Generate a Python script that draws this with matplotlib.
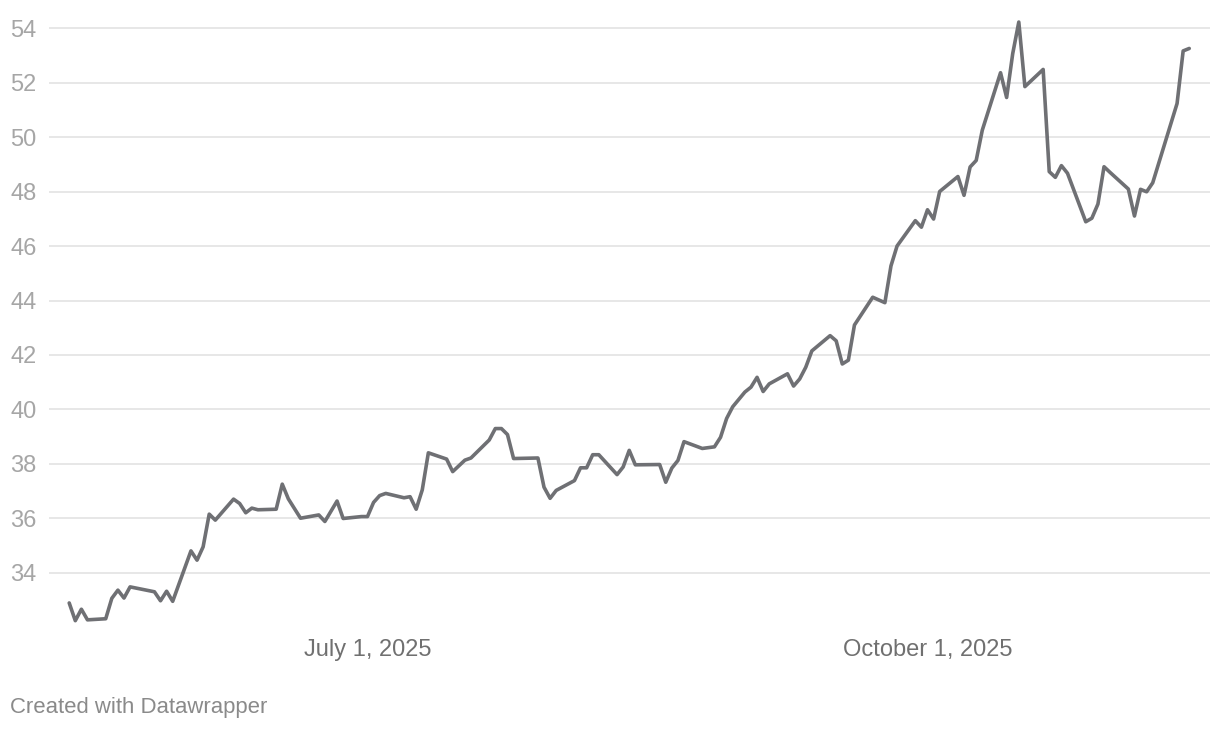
import datetime as dt
import matplotlib
matplotlib.use("Agg")
import matplotlib.pyplot as plt

# values
dates = [
    "2025-05-13", "2025-05-14", "2025-05-15", "2025-05-16", "2025-05-19", "2025-05-20",
    "2025-05-21", "2025-05-22", "2025-05-23", "2025-05-27", "2025-05-28", "2025-05-29",
    "2025-05-30", "2025-06-02", "2025-06-03", "2025-06-04", "2025-06-05", "2025-06-06",
    "2025-06-09", "2025-06-10", "2025-06-11", "2025-06-12", "2025-06-13", "2025-06-16",
    "2025-06-17", "2025-06-18", "2025-06-20", "2025-06-23", "2025-06-24", "2025-06-26",
    "2025-06-27", "2025-06-30", "2025-07-01", "2025-07-02", "2025-07-03", "2025-07-04",
    "2025-07-07", "2025-07-08", "2025-07-09", "2025-07-10", "2025-07-11", "2025-07-14",
    "2025-07-15", "2025-07-17", "2025-07-18", "2025-07-21", "2025-07-22", "2025-07-23",
    "2025-07-24", "2025-07-25", "2025-07-29", "2025-07-30", "2025-07-31", "2025-08-01",
    "2025-08-04", "2025-08-05", "2025-08-06", "2025-08-07", "2025-08-08", "2025-08-11",
    "2025-08-12", "2025-08-13", "2025-08-14", "2025-08-18", "2025-08-19", "2025-08-20",
    "2025-08-21", "2025-08-22", "2025-08-25", "2025-08-27", "2025-08-28", "2025-08-29",
    "2025-08-30", "2025-09-01", "2025-09-02", "2025-09-03", "2025-09-04", "2025-09-05",
    "2025-09-08", "2025-09-09", "2025-09-10", "2025-09-11", "2025-09-12", "2025-09-15",
    "2025-09-16", "2025-09-17", "2025-09-18", "2025-09-19", "2025-09-22", "2025-09-24",
    "2025-09-25", "2025-09-26", "2025-09-29", "2025-09-30", "2025-10-01", "2025-10-02",
    "2025-10-03", "2025-10-06", "2025-10-07", "2025-10-08", "2025-10-09", "2025-10-10",
    "2025-10-13", "2025-10-14", "2025-10-15", "2025-10-16", "2025-10-17", "2025-10-20",
    "2025-10-21", "2025-10-22", "2025-10-23", "2025-10-24", "2025-10-27", "2025-10-28",
    "2025-10-29", "2025-10-30", "2025-10-31", "2025-11-03", "2025-11-04", "2025-11-05",
    "2025-11-06", "2025-11-07", "2025-11-11", "2025-11-12", "2025-11-13",
]
values = [
    32.90, 32.25, 32.67, 32.28, 32.32, 33.07,
    33.37, 33.08, 33.49, 33.31, 32.98, 33.33,
    32.96, 34.81, 34.47, 34.96, 36.16, 35.94,
    36.71, 36.55, 36.21, 36.38, 36.32, 36.34,
    37.26, 36.72, 36.01, 36.13, 35.89, 36.64,
    36.00, 36.07, 36.07, 36.59, 36.84, 36.92,
    36.76, 36.80, 36.34, 37.05, 38.41, 38.18,
    37.72, 38.14, 38.22, 38.88, 39.30, 39.30,
    39.08, 38.20, 38.22, 37.15, 36.74, 37.03,
    37.39, 37.86, 37.86, 38.34, 38.34, 37.61,
    37.89, 38.50, 37.97, 37.98, 37.33, 37.85,
    38.13, 38.82, 38.57, 38.63, 38.98, 39.67,
    40.10, 40.64, 40.82, 41.18, 40.66, 40.94,
    41.31, 40.86, 41.12, 41.55, 42.15, 42.71,
    42.52, 41.67, 41.81, 43.10, 44.12, 43.92,
    45.27, 46.00, 46.93, 46.69, 47.33, 46.99,
    48.00, 48.55, 47.86, 48.90, 49.14, 50.25,
    52.36, 51.45, 53.06, 54.22, 51.85, 52.48,
    48.73, 48.52, 48.95, 48.67, 46.89, 47.02,
    47.54, 48.91, 48.70, 48.09, 47.10, 48.08,
    47.99, 48.32, 51.23, 53.16, 53.25,
]
yticks = [34, 36, 38, 40, 42, 44, 46, 48, 50, 52, 54]
xticks = ["2025-07-01", "2025-10-01"]
xtick_labels = ["July 1, 2025", "October 1, 2025"]

x = [dt.datetime.strptime(d, "%Y-%m-%d") for d in dates]

plt.rcParams["font.family"] = ["Liberation Sans", "DejaVu Sans"]

fig = plt.figure(figsize=(12.2, 7.3), dpi=100)
ax = fig.add_axes([49 / 1220, 1 - 630.2 / 730, 1161 / 1220, (630.2 - 14.4) / 730])

ax.plot(x, values, color="#6f7074", lw=2.6, solid_joinstyle="round",
        solid_capstyle="round", zorder=3)

july1 = dt.datetime(2025, 7, 1)
ax.set_xlim(july1 - dt.timedelta(days=52.32), july1 + dt.timedelta(days=138.41))
ax.set_ylim(31.9, 54.5)

ax.set_yticks(yticks)
ax.set_yticklabels([str(t) for t in yticks])
ax.grid(axis="y", color="#e3e3e3", lw=1.2, zorder=0)
ax.grid(axis="x", visible=False)
ax.tick_params(axis="y", length=0, pad=28, labelsize=17, labelcolor="#a6a6a6")
for lab in ax.get_yticklabels():
    lab.set_horizontalalignment("left")

ax.set_xticks([dt.datetime.strptime(d, "%Y-%m-%d") for d in xticks])
ax.set_xticklabels(xtick_labels)
ax.tick_params(axis="x", length=0, pad=6, labelsize=17, labelcolor="#707070")

for s in ax.spines.values():
    s.set_visible(False)

fig.text(10 / 1220, 1 - 707 / 730, "Created with Datawrapper", fontsize=15.9,
         color="#8a8a8a", ha="left", va="center")

fig.savefig("out.png", dpi=100, facecolor="white")
